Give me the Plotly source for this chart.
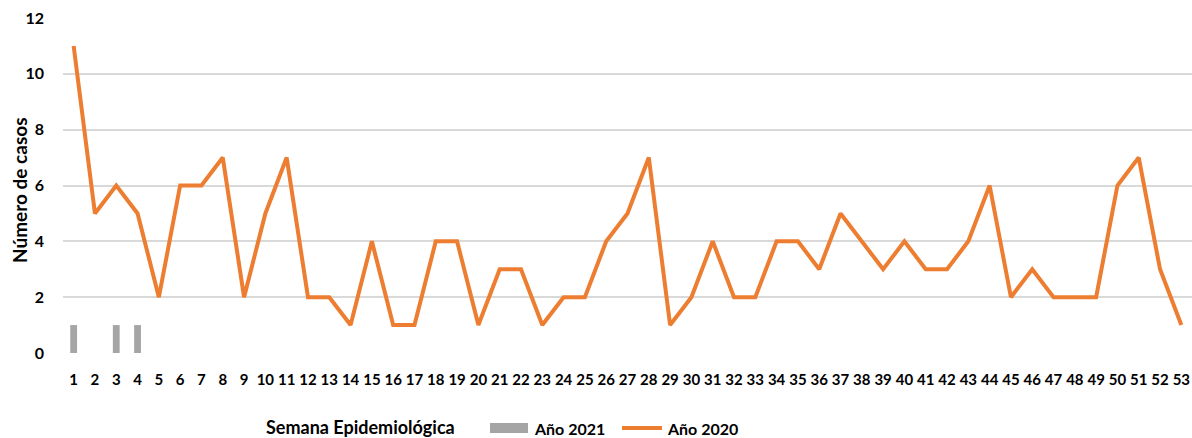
import plotly.graph_objects as go

weeks = [str(i) for i in range(1, 54)]
cases_2020 = [11, 5, 6, 5, 2, 6, 6, 7, 2, 5, 7, 2, 2, 1, 4, 1, 1, 4, 4, 1,
              3, 3, 1, 2, 2, 4, 5, 7, 1, 2, 4, 2, 2, 4, 4, 3, 5, 4, 3, 4,
              3, 3, 4, 6, 2, 3, 2, 2, 2, 6, 7, 3, 1]
cases_2021 = [1, 0, 1, 1] + [None] * 49
y_ticks = [0, 2, 4, 6, 8, 10, 12]

font_family = "Lato"
grey = "#A5A5A5"
orange = "#ED7D31"

W, H = 1192, 438
ML, MR, MT, MB = 63, 0, 18, 85
PW, PH = W - ML - MR, H - MT - MB


def px_x(x):
    return (x - ML) / PW


def px_y(y):
    return (H - MB - y) / PH


fig = go.Figure()
fig.add_trace(go.Bar(x=weeks, y=cases_2021, name="Año 2021", showlegend=False,
                     marker=dict(color=grey, line=dict(width=0)), width=0.32))
fig.add_trace(go.Scatter(x=weeks, y=cases_2020, name="Año 2020", mode="lines",
                         showlegend=False,
                         line=dict(color=orange, width=4)))

legend_y = 428
shapes = [
    dict(type="rect", xref="paper", yref="paper",
         x0=px_x(490), x1=px_x(528), y0=px_y(legend_y + 5), y1=px_y(legend_y - 5),
         fillcolor=grey, line=dict(width=0)),
    dict(type="line", xref="paper", yref="paper",
         x0=px_x(622), x1=px_x(662), y0=px_y(legend_y), y1=px_y(legend_y),
         line=dict(color=orange, width=4)),
]

label_font = dict(size=16, family=font_family, weight="bold", color="black")
annotations = [
    dict(text="Año 2021", xref="paper", yref="paper", x=px_x(532), y=px_y(legend_y),
         xanchor="left", yanchor="middle", showarrow=False, font=label_font),
    dict(text="Año 2020", xref="paper", yref="paper", x=px_x(665), y=px_y(legend_y),
         xanchor="left", yanchor="middle", showarrow=False, font=label_font),
    dict(text="Semana Epidemiológica", xref="paper", yref="paper",
         x=px_x(360), y=px_y(427), xanchor="center", yanchor="middle",
         showarrow=False,
         font=dict(size=18, family=font_family, weight="bold", color="black")),
    dict(text="Número de casos", xref="paper", yref="paper",
         x=px_x(19), y=px_y(190), xanchor="center", yanchor="middle",
         textangle=-90, showarrow=False,
         font=dict(size=19, family=font_family, weight="bold", color="black")),
]

fig.update_layout(
    width=W, height=H,
    margin=dict(l=ML, r=MR, t=MT, b=MB, autoexpand=False),
    paper_bgcolor="white", plot_bgcolor="white",
    font=dict(family=font_family, size=15, color="black"),
    showlegend=False,
    xaxis=dict(type="category", range=[-0.5, 52.5], showgrid=False, showline=False,
               ticks="", automargin=False,
               tickfont=dict(size=15, family=font_family, weight="bold"),
               ticklabelstandoff=16),
    yaxis=dict(range=[0, 12], tickvals=y_ticks, showgrid=True, gridcolor="#D9D9D9",
               gridwidth=1.5, zeroline=False, showline=False, ticks="",
               automargin=False,
               tickfont=dict(size=16, family=font_family, weight="bold"),
               ticklabelstandoff=18),
    shapes=shapes,
    annotations=annotations,
)

fig.write_html("out.html", config={"displayModeBar": False},
               post_script="document.body.style.margin='0';")
